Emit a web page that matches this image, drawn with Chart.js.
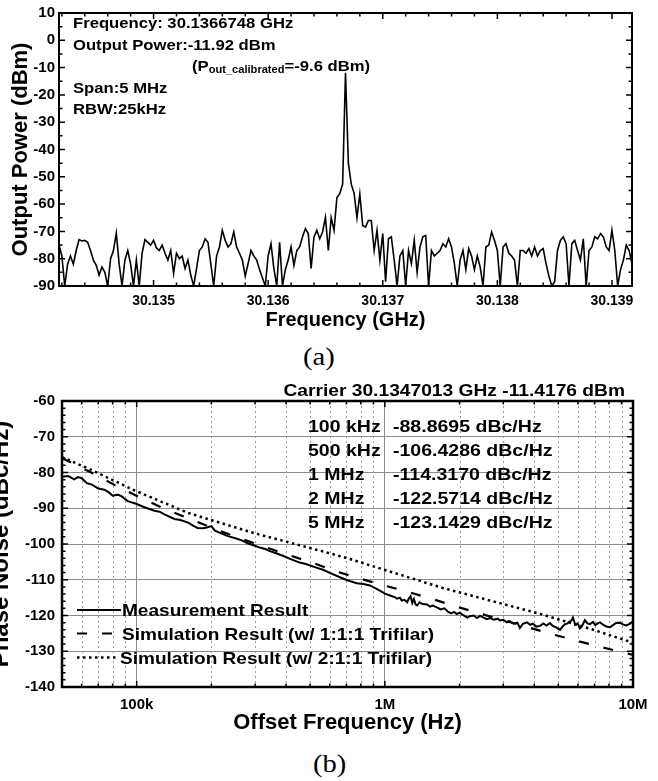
<!DOCTYPE html>
<html>
<head>
<meta charset="utf-8">
<script src="https://cdn.jsdelivr.net/npm/chart.js@4/dist/chart.umd.min.js"></script>
<style>
  html, body { margin: 0; padding: 0; background: #fff; }
  body { width: 658px; height: 781px; position: relative; overflow: hidden; }
  #spectrum { position: absolute; left: 0; top: 0; }
  #phasenoise { position: absolute; left: -16px; top: 370px; }
  .cap { position: absolute; font-family: 'Liberation Serif', 'Times New Roman', serif; font-size: 26px; line-height: 1; transform: scaleX(1.1); transform-origin: left top; color: #000; }
</style>
</head>
<body>
<canvas id="spectrum" width="658" height="340"></canvas>
<div class="cap" style="left:303px; top:344px;">(a)</div>
<canvas id="phasenoise" width="674" height="370"></canvas>
<div class="cap" style="left:313px; top:751px;">(b)</div>
<script>
const FONT = "'Liberation Sans', Arial, Helvetica, sans-serif";
Chart.defaults.font.family = FONT;
Chart.defaults.color = '#000';

// ---- (a) spectrum: 201 sweep points over 5 MHz span ----
const specStartGHz = 30.1341748;
const specStepGHz = 0.000025;
const specPower = [
  -75, -79, -90, -82, -79, -82, -77, -73, -73.5, -73.3,
  -74, -77, -80.5, -82.4, -86, -83, -85, -90, -80, -77,
  -70.6, -82, -90, -80.5, -77, -82, -90, -80.5, -90, -78,
  -73, -74, -75, -73.3, -76, -77, -75, -78, -80.5, -77,
  -85.4, -78, -80, -79, -83.6, -80.5, -86, -90, -83.6, -77,
  -75.7, -72.7, -74, -82, -90, -79, -75.7, -69.6, -73.3, -75.7,
  -74.5, -70.2, -75.7, -78, -80.5, -86.4, -81.8, -77, -79, -80.5,
  -84, -87, -90, -79, -74.5, -83.6, -90, -74, -90, -84,
  -80.5, -75.7, -82.4, -77, -75.7, -72, -69, -70.8, -83.6, -72,
  -69.6, -72.7, -70.2, -64.8, -77, -65, -69.6, -57.6, -56.2, -52.7,
  -11.92, -45, -52.7, -56, -65, -56.3, -67.8, -68.4, -66, -66,
  -77, -69.6, -80.5, -70.8, -88.4, -72.7, -72, -80.5, -90, -79,
  -77, -90, -77, -81.8, -73.3, -85, -75.7, -72, -71.5, -90,
  -77, -79, -78, -77, -74.5, -75.7, -72.7, -75.7, -81.8, -90,
  -80.5, -77, -84, -76.3, -79, -84, -79, -83, -90, -75.7,
  -75, -70.2, -73.3, -77, -90, -75.7, -74.5, -78, -79, -80.5,
  -90, -77, -77, -78, -76.3, -79, -75.7, -79, -77, -76.3,
  -81.8, -86.4, -90, -88.4, -77, -73.3, -72, -74.5, -90, -74.5,
  -73.3, -77, -80.5, -72.7, -90, -77, -75.7, -72, -72.7, -70.8,
  -72, -75.7, -77, -69.6, -77, -90, -84, -80.5, -75, -77,
  -81.8
];
const specFreqTicks = [30.135, 30.136, 30.137, 30.138, 30.139];

// ---- (b) phase noise ----
const measFreqKHz = [
  50, 53, 56, 58, 60, 63, 66, 70, 74, 77, 80, 84, 87, 92, 100, 108, 118, 124, 130, 142,
  150, 161, 170, 176, 186, 193, 200, 206, 212, 233, 250, 265, 280, 299, 313, 330, 344, 365, 388, 420,
  454, 480, 500, 530, 563, 600, 659, 710, 771, 820, 871, 930, 982, 1000, 1050, 1100, 1120, 1150, 1170, 1200,
  1230, 1250, 1270, 1290, 1310, 1330, 1350, 1380, 1420, 1480, 1520, 1560, 1620, 1680, 1740, 1800, 1850, 1900, 1950, 2000,
  2070, 2150, 2200, 2280, 2350, 2420, 2500, 2580, 2650, 2750, 2850, 2910, 3000, 3100, 3190, 3300, 3420, 3500, 3600, 3740,
  3850, 3950, 4080, 4220, 4350, 4480, 4630, 4750, 4900, 5080, 5200, 5300, 5420, 5550, 5650, 5730, 5850, 5980, 6110, 6250,
  6400, 6550, 6710, 6900, 7050, 7200, 7360, 7550, 7800, 8080, 8300, 8550, 8870, 9100, 9400, 9730, 10000
];
const measNoise = [
  -81.2, -81.0, -81.9, -81.3, -81.6, -83.0, -83.4, -84.5, -84.8, -85.5, -86.5, -86.2, -86.7, -88.0, -88.8, -89.8, -90.7, -91.0, -91.8, -93.0,
  -93.3, -94.0, -95.0, -95.5, -95.6, -95.3, -95.0, -96.2, -96.6, -97.8, -98.4, -99.0, -99.8, -100.5, -101.0, -101.4, -102.0, -102.6, -103.3, -104.3,
  -105.2, -105.6, -106.0, -106.6, -107.2, -108.1, -109.3, -110.2, -111.0, -111.2, -111.6, -112.6, -113.5, -113.9, -114.4, -114.9, -115.3, -115.0, -115.8, -115.6,
  -116.3, -115.2, -114.6, -116.5, -115.4, -116.9, -117.2, -116.3, -116.8, -116.9, -117.5, -117.2, -117.7, -118.3, -118.0, -119.0, -119.4, -119.0, -119.6, -119.2,
  -119.9, -120.6, -120.2, -120.0, -120.7, -120.1, -120.6, -121.0, -120.7, -121.2, -120.9, -121.4, -121.2, -121.9, -121.6, -122.3, -122.0, -123.5, -122.3, -121.9,
  -122.6, -122.3, -123.1, -122.9, -122.2, -122.8, -122.1, -122.9, -123.3, -124.0, -123.1, -122.5, -122.3, -121.7, -121.4, -120.6, -122.6, -122.2, -123.6, -122.8,
  -121.3, -122.2, -122.4, -121.8, -122.7, -122.2, -121.9, -122.5, -123.1, -123.3, -122.7, -122.1, -122.0, -122.5, -122.8, -122.3, -121.6
];
const sim111FreqKHz = [50, 66.5, 82, 103, 130, 164, 207, 260, 319, 406, 513, 646, 807, 1020, 1285, 1607, 2005, 2990, 4940, 6280, 7930, 10000];
const sim111Noise = [-76.0, -80.2, -83.6, -87.0, -90.2, -93.0, -95.8, -98.4, -100.5, -103.0, -105.3, -107.8, -109.8, -111.8, -113.7, -115.7, -117.8, -121.3, -125.6, -127.5, -129.3, -131.0];
const sim211FreqKHz = [50, 63.4, 98, 161, 299, 600, 723, 1710, 2650, 4200, 6710, 9500, 10000];
const sim211Noise = [-75.7, -78.8, -85.0, -91.3, -97.0, -102.6, -104.2, -112.3, -115.8, -119.5, -123.7, -127.1, -127.6];
const offsetTickValues = [1e5, 1e6, 1e7];
const offsetTickLabels = ['100k', '1M', '10M'];
const spotOffsets = ['100 kHz', '500 kHz', '1 MHz', '2 MHz', '5 MHz'];
const spotNoise = ['-88.8695 dBc/Hz', '-106.4286 dBc/Hz', '-114.3170 dBc/Hz', '-122.5714 dBc/Hz', '-123.1429 dBc/Hz'];

// inward tick marks on all four sides + frame
const frameTicks = {
  id: 'frameTicks',
  beforeDatasetsDraw(chart, args, o) {
    if (!o.xDotted) return;
    const {ctx, chartArea: a, scales: {x}} = chart;
    ctx.save();
    ctx.strokeStyle = '#9a9a9a';
    ctx.lineWidth = 1;
    ctx.setLineDash([2, 3]);
    o.xDotted.forEach(v => {
      const px = Math.round(x.getPixelForValue(v)) + 0.5;
      ctx.beginPath(); ctx.moveTo(px, a.top); ctx.lineTo(px, a.bottom); ctx.stroke();
    });
    ctx.restore();
  },
  afterDatasetsDraw(chart, args, o) {
    const {ctx, chartArea: a, scales: {x, y}} = chart;
    ctx.save();
    ctx.strokeStyle = '#000';
    ctx.lineWidth = 1.5;
    const xt = (vals, len) => vals.forEach(v => {
      const px = x.getPixelForValue(v);
      ctx.beginPath();
      ctx.moveTo(px, a.bottom); ctx.lineTo(px, a.bottom - len);
      ctx.moveTo(px, a.top); ctx.lineTo(px, a.top + len);
      ctx.stroke();
    });
    const yt = (vals, len) => vals.forEach(v => {
      const py = y.getPixelForValue(v);
      ctx.beginPath();
      ctx.moveTo(a.left, py); ctx.lineTo(a.left + len, py);
      ctx.moveTo(a.right, py); ctx.lineTo(a.right - len, py);
      ctx.stroke();
    });
    xt(o.xMajor, 6); xt(o.xMinor, 3.5);
    yt(o.yMajor, 6); yt(o.yMinor, 3.5);
    ctx.lineWidth = o.frame;
    ctx.strokeRect(a.left, a.top, a.width, a.height);
    ctx.restore();
  }
};

// bold text, stretched horizontally like the original figure
const annotate = {
  id: 'annotate',
  afterDraw(chart, args, o) {
    const ctx = chart.ctx;
    (o.items || []).forEach(it => {
      ctx.save();
      ctx.fillStyle = '#000';
      let x = it.x;
      if (it.align === 'right') {
        let w = 0;
        it.runs.forEach(r => { ctx.font = `bold ${r.size}px ${FONT}`; w += ctx.measureText(r.text).width; });
        x -= w * it.sx;
      }
      it.runs.forEach(r => {
        ctx.font = `bold ${r.size}px ${FONT}`;
        const w = ctx.measureText(r.text).width;
        ctx.save();
        ctx.translate(x, it.y + (r.dy || 0));
        ctx.scale(it.sx, 1);
        ctx.fillText(r.text, 0, 0);
        ctx.restore();
        x += w * it.sx;
      });
      ctx.restore();
    });
  }
};

// legend inside the plot, built from the datasets
const innerLegend = {
  id: 'innerLegend',
  afterDraw(chart, args, o) {
    if (!o.rows) return;
    const ctx = chart.ctx;
    chart.data.datasets.forEach((ds, i) => {
      const ly = o.rows[i];
      ctx.save();
      ctx.strokeStyle = ds.borderColor;
      ctx.lineWidth = ds.borderWidth;
      ctx.setLineDash(ds.borderDash || []);
      ctx.beginPath(); ctx.moveTo(o.x0, ly); ctx.lineTo(o.x1[i], ly); ctx.stroke();
      ctx.font = `bold ${o.size}px ${FONT}`;
      ctx.fillStyle = '#000';
      ctx.translate(o.textX[i], ly + o.textDy);
      ctx.scale(o.sx, 1);
      ctx.fillText(ds.label, 0, 0);
      ctx.restore();
    });
  }
};

const boldTick = (size) => ({ family: FONT, size: size, weight: 'bold' });

// ---------------- chart (a) ----------------
const specXMinor = [];
for (let k = 301342; k <= 301390; k += 2) if (k % 10 !== 0) specXMinor.push(k / 10000);
const specYMinor = [];
for (let v = 5; v >= -85; v -= 10) specYMinor.push(v);
const specYMajor = [];
for (let v = 10; v >= -90; v -= 10) specYMajor.push(v);

new Chart(document.getElementById('spectrum'), {
  type: 'line',
  data: {
    datasets: [{
      data: specPower.map((p, i) => ({ x: specStartGHz + i * specStepGHz, y: p })),
      borderColor: '#000',
      borderWidth: 1.6,
      pointRadius: 0,
      tension: 0
    }]
  },
  options: {
    responsive: false,
    animation: false,
    devicePixelRatio: 1,
    layout: { padding: { left: 0, right: 26, top: 10, bottom: 0 } },
    plugins: {
      legend: { display: false },
      tooltip: { enabled: false },
      frameTicks: { xMajor: specFreqTicks, xMinor: specXMinor, yMajor: specYMajor, yMinor: specYMinor, frame: 2 },
      annotate: {
        items: [
          { x: 73, y: 28, sx: 1.11, runs: [{ text: 'Frequency: 30.1366748 GHz', size: 15 }] },
          { x: 73, y: 49.5, sx: 1.11, runs: [{ text: 'Output Power:-11.92 dBm', size: 15 }] },
          { x: 192, y: 71, sx: 1.11, runs: [
            { text: '(P', size: 15 },
            { text: 'out_calibrated', size: 10, dy: 2 },
            { text: '=-9.6 dBm)', size: 15 }
          ] },
          { x: 73, y: 93, sx: 1.11, runs: [{ text: 'Span:5 MHz', size: 15 }] },
          { x: 73, y: 113.5, sx: 1.11, runs: [{ text: 'RBW:25kHz', size: 15 }] }
        ]
      }
    },
    scales: {
      x: {
        type: 'linear',
        min: specStartGHz,
        max: specStartGHz + (specPower.length - 1) * specStepGHz,
        afterBuildTicks: s => { s.ticks = specFreqTicks.map(v => ({ value: v })); },
        afterFit: s => { s.height = 54; },
        ticks: { callback: v => v.toFixed(3), font: boldTick(14), color: '#000', padding: 7, maxRotation: 0, autoSkip: false },
        grid: { display: false, drawTicks: false },
        border: { display: false },
        title: { display: true, text: 'Frequency (GHz)', color: '#000', font: boldTick(20), padding: { top: 0, bottom: 8 } }
      },
      y: {
        min: -90,
        max: 10,
        afterFit: s => { s.width = 59; },
        ticks: { stepSize: 10, font: boldTick(15), color: '#000', padding: 4 },
        grid: { display: false, drawTicks: false },
        border: { display: false },
        title: { display: true, text: 'Output Power (dBm)', color: '#000', font: boldTick(22), padding: { top: 8, bottom: 0 } }
      }
    }
  },
  plugins: [frameTicks, annotate]
});

// ---------------- chart (b) ----------------
const pnXMinor = [];
const pnXDotted = [];
[1e4, 1e5, 1e6].forEach(d => {
  for (let m = 2; m <= 9; m++) {
    const v = m * d;
    if (v > 5e4 && v < 1e7) { pnXMinor.push(v); pnXDotted.push(v); }
  }
});
const pnYMajor = [];
for (let v = -60; v >= -140; v -= 10) pnYMajor.push(v);
const pnYMinor = [];
for (let v = -62; v > -140; v -= 2) if (v % 10 !== 0) pnYMinor.push(v);

const toPts = (fk, vals) => fk.map((f, i) => ({ x: f * 1000, y: vals[i] }));

const tableItems = [];
spotOffsets.forEach((s, i) => {
  const by = 61.5 + i * 24.2;
  tableItems.push({ x: 324, y: by, sx: 1.22, runs: [{ text: s, size: 16 }] });
  tableItems.push({ x: 409, y: by, sx: 1.22, runs: [{ text: spotNoise[i], size: 16 }] });
});
tableItems.push({ x: 641, y: 26, sx: 1.2, align: 'right', runs: [{ text: 'Carrier 30.1347013 GHz -11.4176 dBm', size: 16 }] });

new Chart(document.getElementById('phasenoise'), {
  type: 'line',
  data: {
    datasets: [
      { label: 'Measurement Result', data: toPts(measFreqKHz, measNoise), borderColor: '#000', borderWidth: 2, pointRadius: 0, tension: 0 },
      { label: 'Simulation Result (w/ 1:1:1 Trifilar)', data: toPts(sim111FreqKHz, sim111Noise), borderColor: '#000', borderWidth: 2.2, borderDash: [10, 15], pointRadius: 0, tension: 0 },
      { label: 'Simulation Result (w/ 2:1:1 Trifilar)', data: toPts(sim211FreqKHz, sim211Noise), borderColor: '#000', borderWidth: 2.5, borderDash: [2.5, 3.5], pointRadius: 0, tension: 0 }
    ]
  },
  options: {
    responsive: false,
    animation: false,
    devicePixelRatio: 1,
    layout: { padding: { left: 0, right: 25, top: 31, bottom: 0 } },
    plugins: {
      legend: { display: false },
      tooltip: { enabled: false },
      frameTicks: { xMajor: offsetTickValues, xMinor: pnXMinor, xDotted: pnXDotted, yMajor: pnYMajor, yMinor: pnYMinor, frame: 2.5 },
      annotate: { items: tableItems },
      innerLegend: { x0: 93, x1: [137, 137, 134], textX: [138, 138, 136], rows: [240, 263.5, 287.5], textDy: 6, size: 17, sx: 1.12 }
    },
    scales: {
      x: {
        type: 'logarithmic',
        min: 5e4,
        max: 1e7,
        afterBuildTicks: s => { s.ticks = offsetTickValues.map(v => ({ value: v })); },
        afterFit: s => { s.height = 53; },
        ticks: { callback: v => offsetTickLabels[offsetTickValues.indexOf(v)], font: boldTick(15), color: '#000', padding: 9, maxRotation: 0, autoSkip: false },
        grid: { color: '#8c8c8c', lineWidth: 1, drawTicks: false },
        border: { display: false },
        title: { display: true, text: 'Offset Frequency (Hz)', color: '#000', font: boldTick(22), padding: { top: 0, bottom: 4 } }
      },
      y: {
        min: -140,
        max: -60,
        afterFit: s => { s.width = 78; },
        ticks: { stepSize: 10, font: boldTick(15), color: '#000', padding: 7 },
        grid: { color: '#8c8c8c', lineWidth: 1, drawTicks: false },
        border: { display: false },
        title: { display: true, text: 'Phase Noise (dBc/Hz)', color: '#000', font: boldTick(24), padding: { top: 3, bottom: 0 } }
      }
    }
  },
  plugins: [frameTicks, annotate, innerLegend]
});
</script>
</body>
</html>
